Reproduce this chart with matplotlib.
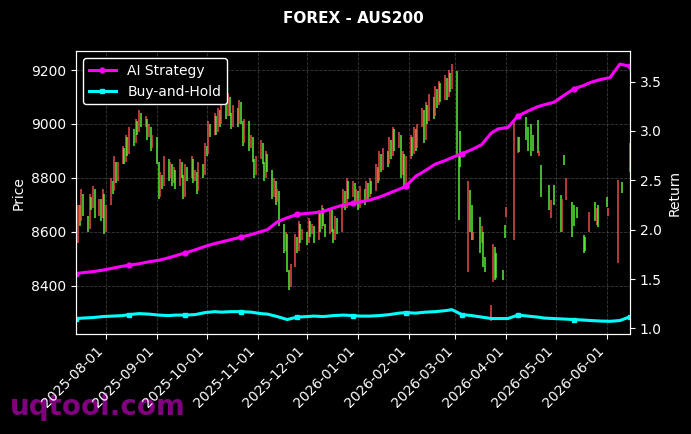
import numpy as np
import pandas as pd
import matplotlib
matplotlib.use("Agg")
import matplotlib.pyplot as plt
import matplotlib.dates as mdates

# ── Data ───────────────────────────────────────────────────────────────────────
START = "2025-07-14"          # first business day of the candle series

# daily candle bodies, one row per week (Mon..Fri); None = no bar that day
opens = [
    8780, 8560, 8700, 8640, 8740,
    8660, 8610, 8730, 8690, 8760,
    8660, 8720, 8650, 8740, 8600,
    8700, 8790, 8750, 8860, 8790,
    8850, 8910, 8860, 8950, 8890,
    8980, 8930, 9010, 8970, 9040,
    8990, 9020, 8950, 8990, 8910,
    8950, 8860, 8730, 8810, 8770,
    8870, 8800, 8850, 8780, 8830,
    8770, 8860, 8810, 8730, 8840,
    8800, 8870, 8790, 8820, 8750,
    8850, 8810, 8920, 8890, 9000,
    8960, 9030, 8970, 9050, 9000,
    9100, 9030, 9100, 9040, 8990,
    9060, 9000, 9080, 9010, 8930,
    9010, 8910, 8950, 8870, 8810,
    8870, 8930, 8860, 8800, 8890,
    8830, 8730, 8790, 8710, 8750,
    8630, 8530, 8590, 8460, 8395,
    8470, 8580, 8530, 8630, 8570,
    8600, 8560, 8640, 8590, 8620,
    8570, 8670, 8610, 8690, 8630,
    8590, 8680, 8610, 8570, 8650,
    8600, 8690, 8750, 8690, 8790,
    8730, 8780, 8710, 8750, 8690,
    8760, 8710, 8780, 8730, 8790,
    8750, 8840, 8790, 8890, 8830,
    8900, 8850, 8940, 8880, 8980,
    8910, 8960, 8810, 8890, 8770,
    8870, 8950, 8890, 8980, 8910,
    8990, 9050, 8940, 9070, 9010,
    9100, 9030, 9130, 9070, 9150,
    9090, 9170, 9100, 9190, 9130,
    9195, 8880, 8975, None, None,
    8450, 8755, 8700, 8570, None,
    8655, 8560, 8600, 8505, None,
    8268, 8415, 8545, 8520, None,
    8460, 8625, 8655, None, None,
    8570, None, 8892, 8950, None,
    9026, 8990, None, 9000, 8960,
    9015, 8880, 8848, None, None,
    8774, 8651, None, 8774, None,
    8737, 8600, 8885, 8718, None,
    8711, 8700, None, 8692, None,
    8589, 8580, None, 8600, None,
    8711, 8625, 8700, None, None,
    8730, 8660, None, None, None,
    8485, None, 8785, None, None,
    8822,
]
closes = [
    8545, 8700, 8620, 8760, 8660,
    8600, 8740, 8680, 8770, 8650,
    8720, 8640, 8760, 8590, 8700,
    8800, 8740, 8880, 8780, 8860,
    8920, 8850, 8960, 8880, 8990,
    8920, 9020, 8960, 9050, 8990,
    9030, 8940, 9000, 8900, 8960,
    8850, 8720, 8820, 8760, 8880,
    8790, 8860, 8770, 8840, 8760,
    8870, 8800, 8720, 8850, 8790,
    8880, 8780, 8830, 8740, 8860,
    8800, 8930, 8880, 9010, 8950,
    9040, 8960, 9060, 8990, 9110,
    9020, 9115, 9030, 8980, 9070,
    8990, 9090, 9000, 8920, 9020,
    8900, 8960, 8860, 8800, 8880,
    8940, 8850, 8790, 8900, 8820,
    8720, 8800, 8700, 8760, 8620,
    8520, 8600, 8450, 8385, 8480,
    8590, 8520, 8640, 8560, 8610,
    8550, 8650, 8580, 8630, 8560,
    8680, 8600, 8700, 8620, 8580,
    8690, 8600, 8560, 8660, 8590,
    8700, 8760, 8680, 8800, 8720,
    8790, 8700, 8760, 8680, 8770,
    8700, 8790, 8720, 8800, 8740,
    8850, 8780, 8900, 8820, 8910,
    8840, 8950, 8870, 8990, 8900,
    8970, 8800, 8900, 8760, 8880,
    8960, 8880, 8990, 8900, 9000,
    9060, 8930, 9080, 9000, 9110,
    9020, 9140, 9060, 9160, 9080,
    9180, 9090, 9200, 9120, 9222,
    8880, 8645, 8840, None, None,
    8790, 8600, 8570, 8600, None,
    8520, 8620, 8470, 8450, None,
    8330, 8555, 8420, 8430, None,
    8422, 8578, 8692, None, None,
    9015, None, 8952, 8895, None,
    8940, 8900, None, 8880, 8900,
    8892, 8900, 8730, None, None,
    8681, 8718, None, 8700, None,
    8600, 8720, 8848, 8800, None,
    8581, 8620, None, 8651, None,
    8522, 8530, None, 8674, None,
    8640, 8690, 8618, None, None,
    8692, 8690, None, None, None,
    8792, None, 8744, None, None,
    8930,
]

EQ_STEP = 4   # equity curves sampled every 4th business day

ai_return = [
    1.555, 1.565, 1.575, 1.59, 1.61, 1.63, 1.64, 1.655, 1.675, 1.69,
    1.715, 1.735, 1.765, 1.795, 1.83, 1.86, 1.875, 1.90, 1.925, 1.95,
    1.98, 2.00, 2.08, 2.12, 2.155, 2.165, 2.17, 2.185, 2.22, 2.25,
    2.27, 2.28, 2.30, 2.33, 2.37, 2.41, 2.44, 2.54, 2.60, 2.665,
    2.70, 2.73, 2.77, 2.81, 2.86, 2.98, 3.02, 3.035, 3.15, 3.20,
    3.245, 3.265, 3.29, 3.36, 3.425, 3.46, 3.49, 3.52, 3.54, 3.677,
    3.655,
]
bh_return = [
    1.10, 1.105, 1.11, 1.12, 1.125, 1.13, 1.14, 1.15, 1.145, 1.135,
    1.13, 1.135, 1.135, 1.14, 1.16, 1.17, 1.165, 1.17, 1.17, 1.165,
    1.15, 1.145, 1.12, 1.09, 1.115, 1.12, 1.125, 1.12, 1.13, 1.135,
    1.13, 1.125, 1.125, 1.13, 1.14, 1.155, 1.16, 1.155, 1.165, 1.17,
    1.18, 1.19, 1.14, 1.13, 1.115, 1.10, 1.10, 1.10, 1.135, 1.125,
    1.115, 1.105, 1.10, 1.095, 1.09, 1.085, 1.08, 1.075, 1.072, 1.08,
    1.117,
]

UP_COLOR = "#ff4f4f"     # rising bars are red
DOWN_COLOR = "#5cff3a"   # falling bars are green

# ── Figure ─────────────────────────────────────────────────────────────────────
plt.style.use("dark_background")
fig, ax = plt.subplots(figsize=(6.91, 4.34), dpi=100)
fig.subplots_adjust(left=0.110, right=0.912, top=0.882, bottom=0.230)

dates = pd.bdate_range(START, periods=len(opens))
o = np.array(opens, dtype=float)
c = np.array(closes, dtype=float)
ok = ~np.isnan(o)
bar_colors = np.where(c >= o, UP_COLOR, DOWN_COLOR)
ax.vlines(dates[ok], o[ok], c[ok], colors=bar_colors[ok], lw=1.2, alpha=0.85, zorder=2)

ax.grid(True, ls="--", lw=0.6, color="gray", alpha=0.45)
ax.set_ylabel("Price")
ax.xaxis.set_major_locator(mdates.MonthLocator())
ax.xaxis.set_major_formatter(mdates.DateFormatter("%Y-%m-%d"))
plt.setp(ax.get_xticklabels(), rotation=45, ha="right")
ax.set_xlim(pd.Timestamp("2025-07-13 18:00"), pd.Timestamp("2026-06-15 06:00"))

ax2 = ax.twinx()
eq_dates = dates[::EQ_STEP]
ax2.plot(eq_dates, ai_return, color="#ff00ff", lw=2.2, marker="o", ms=3.5,
         markevery=6, label="AI Strategy")
ax2.plot(eq_dates, bh_return, color="#00ffff", lw=2.2, marker="s", ms=3.5,
         markevery=6, label="Buy-and-Hold")
ax2.set_ylabel("Return")
ax2.legend(loc="upper left", facecolor="black", edgecolor="white", framealpha=1.0)

ax.set_title("FOREX - AUS200", fontweight="bold", fontsize=11, pad=20)

fig.text(0.014, 0.044, "uqtool.com", fontsize=20, fontweight="bold",
         color="purple", va="baseline", zorder=-1)

fig.savefig("out.png", dpi=100)
